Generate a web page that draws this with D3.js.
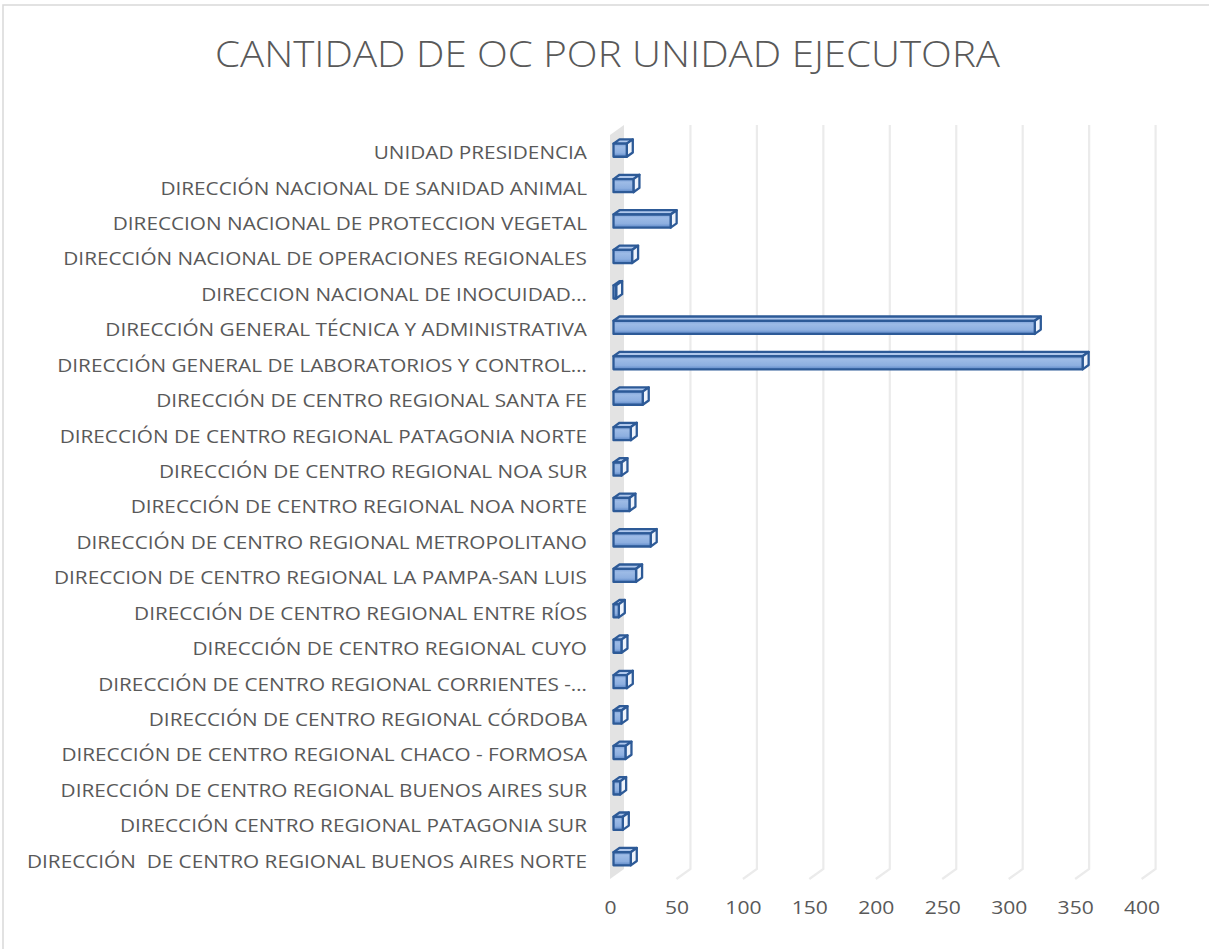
<!DOCTYPE html>
<html>
<head>
<meta charset="utf-8">
<script src="https://cdn.jsdelivr.net/npm/d3@7"></script>
<style>
  body { margin: 0; background: #fff; }
  svg { display: block; }
  text { white-space: pre; }
</style>
</head>
<body>
<div id="chart"></div>
<script>
// categories top to bottom, as they appear in the chart
var categories = [
    "UNIDAD PRESIDENCIA",
    "DIRECCIÓN NACIONAL DE SANIDAD ANIMAL",
    "DIRECCION NACIONAL DE PROTECCION VEGETAL",
    "DIRECCIÓN NACIONAL DE OPERACIONES REGIONALES",
    "DIRECCION NACIONAL DE INOCUIDAD…",
    "DIRECCIÓN GENERAL TÉCNICA Y ADMINISTRATIVA",
    "DIRECCIÓN GENERAL DE LABORATORIOS Y CONTROL…",
    "DIRECCIÓN DE CENTRO REGIONAL SANTA FE",
    "DIRECCIÓN DE CENTRO REGIONAL PATAGONIA NORTE",
    "DIRECCIÓN DE CENTRO REGIONAL NOA SUR",
    "DIRECCIÓN DE CENTRO REGIONAL NOA NORTE",
    "DIRECCIÓN DE CENTRO REGIONAL METROPOLITANO",
    "DIRECCION DE CENTRO REGIONAL LA PAMPA-SAN LUIS",
    "DIRECCIÓN DE CENTRO REGIONAL ENTRE RÍOS",
    "DIRECCIÓN DE CENTRO REGIONAL CUYO",
    "DIRECCIÓN DE CENTRO REGIONAL CORRIENTES -…",
    "DIRECCIÓN DE CENTRO REGIONAL CÓRDOBA",
    "DIRECCIÓN DE CENTRO REGIONAL CHACO - FORMOSA",
    "DIRECCIÓN DE CENTRO REGIONAL BUENOS AIRES SUR",
    "DIRECCIÓN CENTRO REGIONAL PATAGONIA SUR",
    "DIRECCIÓN  DE CENTRO REGIONAL BUENOS AIRES NORTE"
];

var values = [10, 15, 43, 14, 2, 317, 353, 22, 13, 6, 12, 28, 17, 4, 6, 10, 6, 9, 5, 7, 13];

var xTicks = [0, 50, 100, 150, 200, 250, 300, 350, 400];

var title = "CANTIDAD DE OC POR UNIDAD EJECUTORA";

var width = 1209, height = 949;
var textColor = "#595959";
var font = "'Open Sans', 'Noto Sans', sans-serif";

// front floor edge and the 3d depth of the plot
var front = {left: 610, right: 1141.6, top: 135, bottom: 879};
var depth = {dx: 14, dy: -10};

var svg = d3.select("#chart").append("svg")
    .attr("width", width)
    .attr("height", height);

var defs = svg.append("defs");
var grad = defs.append("linearGradient")
    .attr("id", "barFront")
    .attr("x1", 0).attr("y1", 0).attr("x2", 0).attr("y2", 1);
grad.append("stop").attr("offset", "0%").attr("stop-color", "#7a9fd6");
grad.append("stop").attr("offset", "25%").attr("stop-color", "#9dbbe6");
grad.append("stop").attr("offset", "70%").attr("stop-color", "#8dafe0");
grad.append("stop").attr("offset", "100%").attr("stop-color", "#5a86c6");

// stretch text horizontally to a given width
function fitWidth(sel, k) {
    sel.each(function() {
        d3.select(this)
            .attr("textLength", this.getComputedTextLength() * k)
            .attr("lengthAdjust", "spacingAndGlyphs");
    });
}

// chart border
svg.append("rect")
    .attr("x", 3).attr("y", 5)
    .attr("width", width + 10).attr("height", height + 10)
    .attr("fill", "none")
    .attr("stroke", "#d9d9d9")
    .attr("stroke-width", 1.5);

// title
var titleText = svg.append("text")
    .attr("x", 607.5)
    .attr("y", 67)
    .attr("text-anchor", "middle")
    .attr("fill", textColor)
    .style("font-family", font)
    .style("font-size", "37px")
    .style("font-weight", 300)
    .text(title);
fitWidth(titleText, 785 / titleText.node().getComputedTextLength());

var x = d3.scaleLinear()
    .domain([0, 400])
    .range([front.left, front.right]);

var y = d3.scaleBand()
    .domain(categories)
    .range([front.top, front.bottom])
    .paddingInner(0.63)
    .paddingOuter(0.315);

// left side wall
svg.append("path")
    .attr("d", "M" + front.left + "," + front.top +
        "L" + (front.left + depth.dx) + "," + (front.top + depth.dy) +
        "L" + (front.left + depth.dx) + "," + (front.bottom + depth.dy) +
        "L" + front.left + "," + front.bottom + "Z")
    .attr("fill", "#e3e3e3");

// gridlines on back wall and floor
svg.append("g")
    .selectAll("path")
    .data(xTicks.slice(1))
    .enter().append("path")
    .attr("d", function(d) {
        var xb = x(d) + depth.dx;
        return "M" + xb + "," + (front.top + depth.dy) +
            "L" + xb + "," + (front.bottom + depth.dy) +
            "L" + x(d) + "," + front.bottom;
    })
    .attr("fill", "none")
    .attr("stroke", "#ebebeb")
    .attr("stroke-width", 2.2);

// x axis labels
var xAxis = svg.append("g")
    .attr("transform", "translate(0," + (front.bottom + 18) + ")")
    .call(d3.axisBottom(x).tickValues(xTicks).tickSize(0).tickPadding(4));
xAxis.select(".domain").remove();
xAxis.selectAll("text")
    .attr("fill", textColor)
    .style("font-family", font)
    .style("font-size", "18px");
fitWidth(xAxis.selectAll("text"), 1.17);

// category labels
var yAxis = svg.append("g")
    .attr("transform", "translate(" + (front.left - 23) + ",0)")
    .call(d3.axisLeft(y).tickSize(0).tickPadding(0));
yAxis.select(".domain").remove();
yAxis.selectAll("text")
    .attr("fill", textColor)
    .attr("dy", "0.36em")
    .style("font-family", font)
    .style("font-size", "18px");

// the longest label is 560px wide in the original
var maxW = d3.max(yAxis.selectAll("text").nodes(), function(n) { return n.getComputedTextLength(); });
fitWidth(yAxis.selectAll("text"), 560 / maxW);

// 3d bars
var bdx = 6, bdy = -4.3;   // bar depth
var off = {dx: 3.5, dy: -2.5}; // bar front plane offset from floor front
var barStroke = "#2d5a97";

var bars = svg.append("g").selectAll("g")
    .data(categories.map(function(c, i) { return {name: c, value: values[i]}; }))
    .enter().append("g")
    .attr("transform", "translate(" + off.dx + "," + off.dy + ")");

function pts(p) { return p.map(function(q) { return q.join(","); }).join(" "); }

bars.append("polygon")
    .attr("points", function(d) {
        var x0 = x(0), x1 = x(d.value), yt = y(d.name);
        return pts([[x0, yt], [x0 + bdx, yt + bdy], [x1 + bdx, yt + bdy], [x1, yt]]);
    })
    .attr("fill", "#b0c8ec")
    .attr("stroke", barStroke)
    .attr("stroke-width", 2.3)
    .attr("stroke-linejoin", "round");

bars.append("polygon")
    .attr("points", function(d) {
        var x1 = x(d.value), yt = y(d.name), yb = y(d.name) + y.bandwidth();
        return pts([[x1, yt], [x1 + bdx, yt + bdy], [x1 + bdx, yb + bdy], [x1, yb]]);
    })
    .attr("fill", "#eef3fb")
    .attr("stroke", barStroke)
    .attr("stroke-width", 2.3)
    .attr("stroke-linejoin", "round");

bars.append("rect")
    .attr("x", x(0))
    .attr("y", function(d) { return y(d.name); })
    .attr("width", function(d) { return x(d.value) - x(0); })
    .attr("height", y.bandwidth())
    .attr("fill", "url(#barFront)")
    .attr("stroke", barStroke)
    .attr("stroke-width", 2.3)
    .attr("stroke-linejoin", "round");
</script>
</body>
</html>
